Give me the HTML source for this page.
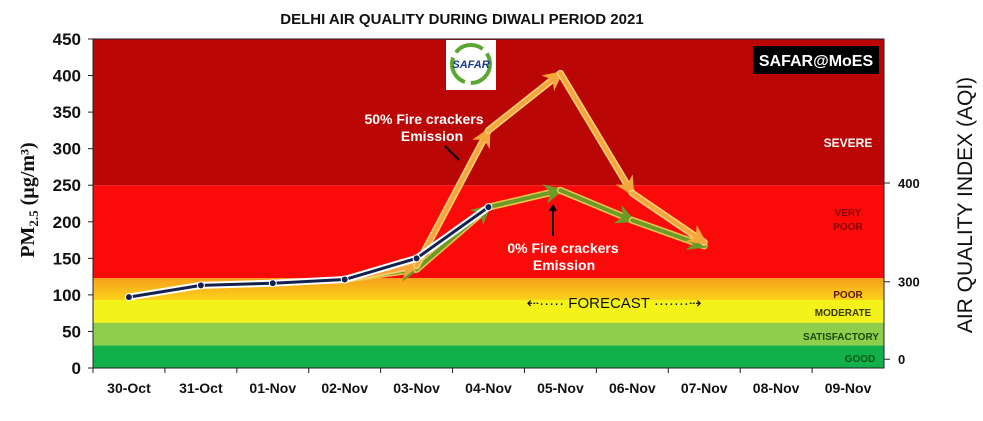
<!DOCTYPE html>
<html><head><meta charset="utf-8"><style>
body{margin:0;background:#fff;width:983px;height:416px;overflow:hidden;font-family:"Liberation Sans",sans-serif}
</style></head><body>
<svg id="c" width="983" height="416" xmlns="http://www.w3.org/2000/svg">
<defs>
<linearGradient id="poorG" x1="0" y1="0" x2="0" y2="1"><stop offset="0" stop-color="#f7a01a"/><stop offset="1" stop-color="#fbd21a"/></linearGradient>
<marker id="ao" markerWidth="5" markerHeight="5" refX="4" refY="2.5" orient="auto" markerUnits="strokeWidth"><path d="M0,0 L5,2.5 L0,5 L1.5,2.5 z" fill="#f5a63c"/></marker>
<marker id="ag" markerWidth="5" markerHeight="5" refX="4" refY="2.5" orient="auto" markerUnits="strokeWidth"><path d="M0,0 L5,2.5 L0,5 L1.5,2.5 z" fill="#6f9a2a"/></marker>
</defs>
<g id="bands"></g>
<g id="axes"></g>
<g id="series"></g>
<g id="labels"></g>
</svg>
<script>
const categories=["30-Oct","31-Oct","01-Nov","02-Nov","03-Nov","04-Nov","05-Nov","06-Nov","07-Nov","08-Nov","09-Nov"];
const observed=[97,113,116,121,150,220];
const fire50=[null,null,null,121,140,325,403,239,172];
const fire0=[null,null,null,121,135,220,243,202,167];
const yTicks=[0,50,100,150,200,250,300,350,400,450];
const bandLows=[0,31,62,93,123,250];
const bandHighs=[31,62,93,123,250,450];
const bandNames=["GOOD","SATISFACTORY","MODERATE","POOR","VERY POOR","SEVERE"];
const aqiTicks=["0","300","400"];
const aqiTickPm=[12,118,253];

const NS="http://www.w3.org/2000/svg";
const L=93,R=884,T=39,B=368;
const bw=(R-L)/categories.length;
const x=i=>L+bw*(i+0.5);
const y=v=>B-(v/450)*(B-T);
function mk(t,a,p){const e=document.createElementNS(NS,t);for(const k in a)e.setAttribute(k,a[k]);document.getElementById(p).appendChild(e);return e;}
const bandFill=["#12b04a","#8fce4a","#f3f31a","url(#poorG)","#fb0a0a","#bb0606"];
const bandTxt=["#0a5a1a","#1a4a10","#3a3a00","#5a1a00","#8a0000","#ffffff"];
bandNames.forEach((n,i)=>{
 const r=mk("rect",{x:L,y:y(bandHighs[i]),width:R-L,height:y(bandLows[i])-y(bandHighs[i]),fill:bandFill[i]},"bands");
 
 
});
const lblPos=[[860,362],[841,340],[843,316],[848,298],[848,216],[848,147]];
bandNames.forEach((n,i)=>{
 const parts=n==="VERY POOR"?["VERY","POOR"]:[n];
 parts.forEach((p,j)=>{
  const t=mk("text",{x:lblPos[i][0],y:lblPos[i][1]+j*14,"text-anchor":"middle","font-size":i==5?12:10,"font-weight":"bold",fill:bandTxt[i]},"labels");
  t.textContent=p;
  
  
 });
});
mk("rect",{x:L,y:T,width:R-L,height:B-T,fill:"none",stroke:"#222","stroke-width":1},"axes");
mk("line",{x1:L,y1:B,x2:R,y2:B,stroke:"#222"},"axes");
yTicks.forEach(v=>{
 mk("line",{x1:L-5,y1:y(v),x2:L,y2:y(v),stroke:"#222"},"axes");
 const t=mk("text",{x:L-12,y:y(v)+6,"text-anchor":"end","font-size":17,"font-weight":"bold",fill:"#111"},"axes");
 t.textContent=v;
 
 
});
categories.forEach((c,i)=>{
 mk("line",{x1:L+bw*i,y1:B,x2:L+bw*i,y2:B+5,stroke:"#222"},"axes");
 const t=mk("text",{x:x(i),y:393,"text-anchor":"middle","font-size":14,"font-weight":"bold",fill:"#111"},"axes");
 t.textContent=c;
 
 
});
aqiTicks.forEach((a,i)=>{
 mk("line",{x1:R,y1:y(aqiTickPm[i]),x2:R+6,y2:y(aqiTickPm[i]),stroke:"#222"},"axes");
 const t=mk("text",{x:R+14,y:y(aqiTickPm[i])+5,"font-size":13,"font-weight":"bold",fill:"#111"},"axes");
 t.textContent=a;
 
 
});
function seg(arr,stroke,outline,mid,w,name){
 for(let i=0;i<arr.length-1;i++){
  if(arr[i]==null||arr[i+1]==null)continue;
  mk("line",{x1:x(i),y1:y(arr[i]),x2:x(i+1),y2:y(arr[i+1]),stroke:outline,"stroke-width":w+3,"stroke-linecap":"round"},"series");
  const ln=mk("line",{x1:x(i),y1:y(arr[i]),x2:x(i+1),y2:y(arr[i+1]),stroke:stroke,"stroke-width":w,"stroke-linecap":"round","marker-end":i>=3?mid:""},"series");
  
  
 }
}
seg(fire0,"#6f9a2a","#e8c84a","url(#ag)",4,"fire0-segment");
seg(fire50,"#f5a63c","#f8d27a","url(#ao)",4,"fire50-segment");
for(let i=0;i<observed.length-1;i++){
 mk("line",{x1:x(i),y1:y(observed[i]),x2:x(i+1),y2:y(observed[i+1]),stroke:"#fff","stroke-width":7},"series");
 const ln=mk("line",{x1:x(i),y1:y(observed[i]),x2:x(i+1),y2:y(observed[i+1]),stroke:"#14214f","stroke-width":3},"series");
 
 
}
observed.forEach((v,i)=>{
 const c=mk("circle",{cx:x(i),cy:y(v),r:3.5,fill:"#14214f",stroke:"#fff","stroke-width":1},"series");
 
 
});
</script>
<svg width="983" height="416" style="position:absolute;left:0;top:0">
<text x="462" y="24" text-anchor="middle" font-size="15" font-weight="bold" fill="#111">DELHI AIR QUALITY DURING DIWALI PERIOD 2021</text>
<text transform="translate(34,200) rotate(-90)" text-anchor="middle" font-size="20" font-weight="bold" fill="#111" font-family="Liberation Serif">PM<tspan font-size="13" dy="4">2.5</tspan><tspan dy="-4"> (µg/m³)</tspan></text>
<text transform="translate(972,205) rotate(-90)" text-anchor="middle" font-size="21" fill="#111">AIR QUALITY INDEX (AQI)</text>
<rect x="753" y="46" width="126" height="28" fill="#000"/>
<text x="816" y="66" text-anchor="middle" font-size="16" font-weight="bold" fill="#fff">SAFAR@MoES</text>
<rect x="446" y="40" width="50" height="50" fill="#fff"/>
<circle cx="471" cy="64" r="19" fill="none" stroke="#5aa832" stroke-width="4" stroke-dasharray="30 6"/>
<text x="471" y="68" text-anchor="middle" font-size="11" font-weight="bold" font-style="italic" fill="#1a3a8a">SAFAR</text>
<text x="424" y="124" text-anchor="middle" font-size="14" font-weight="bold" fill="#fff">50%  Fire crackers</text>
<text x="432" y="141" text-anchor="middle" font-size="14" font-weight="bold" fill="#fff">Emission</text>
<line x1="445" y1="146" x2="459" y2="160" stroke="#000" stroke-width="2"/>
<text x="563" y="253" text-anchor="middle" font-size="14" font-weight="bold" fill="#fff">0%  Fire crackers</text>
<text x="564" y="270" text-anchor="middle" font-size="14" font-weight="bold" fill="#fff">Emission</text>
<line x1="553" y1="236" x2="553" y2="206" stroke="#000" stroke-width="2"/>
<path d="M553,204 l-4,7 h8z" fill="#000"/>
<text x="614" y="308" text-anchor="middle" font-size="15" fill="#111">⇠····· FORECAST ·······⇢</text>
</svg>
</body></html>
